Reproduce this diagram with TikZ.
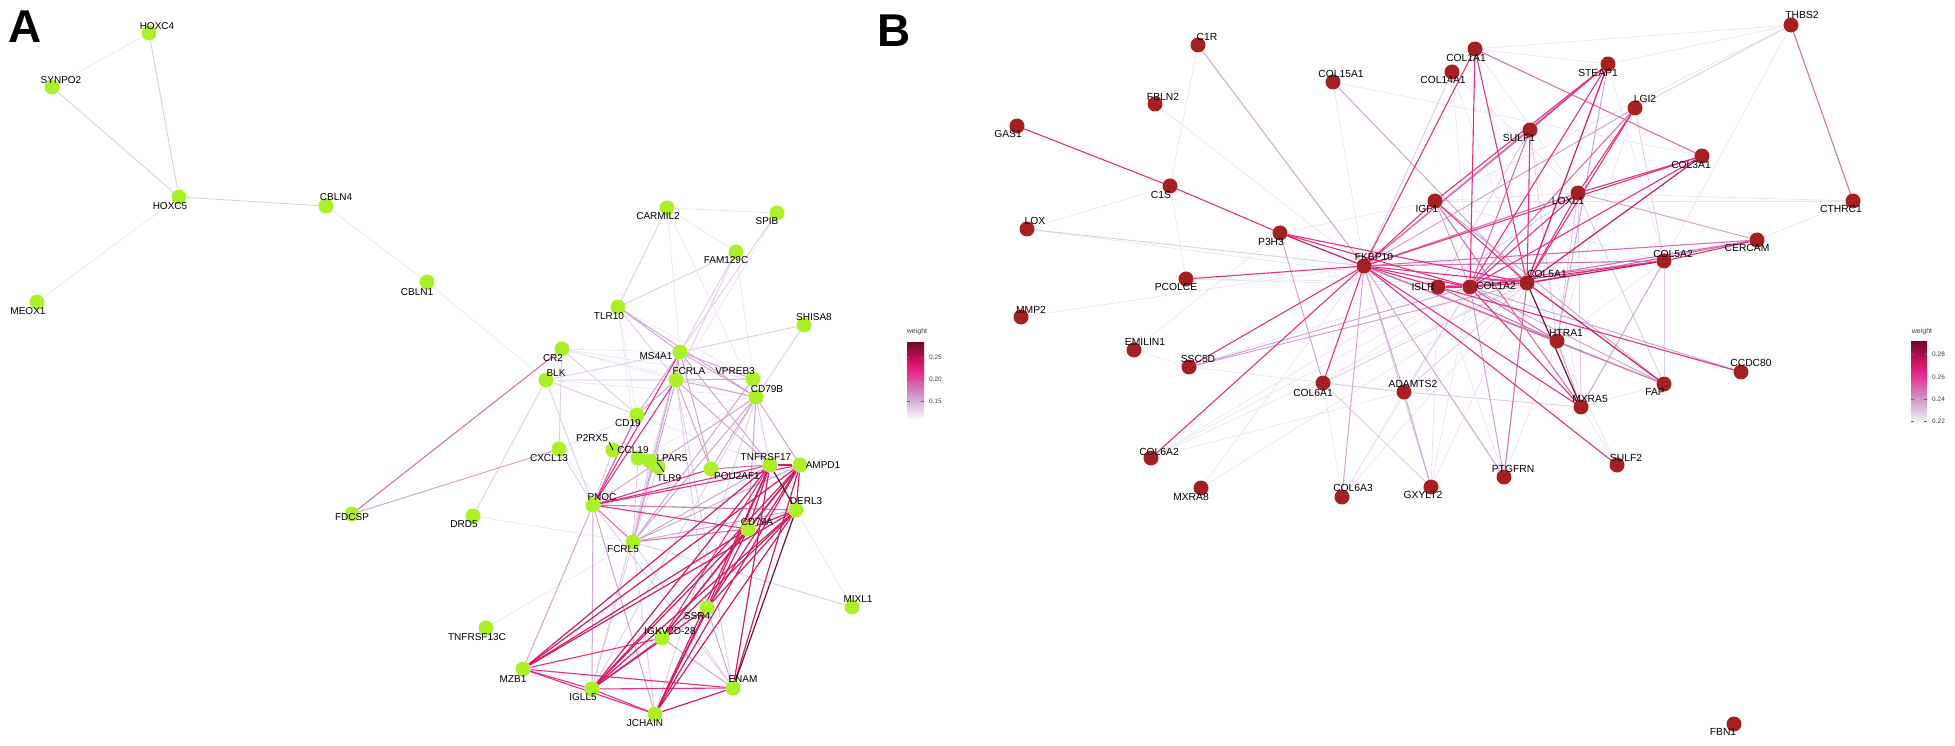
\documentclass[tikz,border=0pt]{standalone}
\usepackage{fontspec}
\setmainfont{Liberation Sans}
\usetikzlibrary{backgrounds}
\definecolor{c1}{RGB}{236,227,242}
\definecolor{c2}{RGB}{224,204,230}
\definecolor{c3}{RGB}{210,165,208}
\definecolor{c4}{RGB}{216,112,176}
\definecolor{c5}{RGB}{229,46,132}
\definecolor{c6}{RGB}{210,28,98}
\definecolor{c7}{RGB}{112,22,44}
\definecolor{limeg}{RGB}{172,240,42}
\definecolor{brownr}{RGB}{165,32,32}
\definecolor{gm1}{RGB}{110,8,45}
\definecolor{gm2}{RGB}{200,16,92}
\definecolor{gm3}{RGB}{231,41,138}
\definecolor{gm4}{RGB}{203,150,200}
\definecolor{gm5}{RGB}{248,245,250}
\tikzset{
  gA/.style={circle,fill=limeg,minimum size=15pt,inner sep=0pt},
  gB/.style={circle,fill=brownr,minimum size=15pt,inner sep=0pt},
  lab/.style={font=\fontsize{10}{12}\selectfont,inner sep=0pt,text=black},
  labB/.style={font=\fontsize{10.3}{12}\selectfont,inner sep=0pt,text=black},
  w1/.style={draw=c1,line width=0.7pt},
  w2/.style={draw=c2,line width=0.9pt},
  w3/.style={draw=c3,line width=1pt},
  w4/.style={draw=c4,line width=1.1pt},
  w5/.style={draw=c5,line width=1.1pt},
  w6/.style={draw=c6,line width=1.2pt},
  w7/.style={draw=c7,line width=1.2pt},
  legtxt/.style={font=\fontsize{6.5}{8}\selectfont,inner sep=0pt,text=black!75,anchor=west},
  legttl/.style={font=\fontsize{7}{8}\selectfont,inner sep=0pt,text=black!75},
  tick/.style={draw=black!60,line width=0.6pt},
  panel/.style={font=\bfseries\fontsize{46}{46}\selectfont,inner sep=0pt},
  repel/.style={draw=black,line width=0.8pt}
}
\begin{document}
\begin{tikzpicture}[x=1pt,y=-1pt]
\useasboundingbox (0,0) rectangle (1955,746);

% ---------------- Panel A nodes
\foreach \n/\x/\y in {HOXC4/149/33, SYNPO2/52/87, HOXC5/179/197, CBLN4/326/206, MEOX1/37/302, CBLN1/427/282,
  CARMIL2/667/208, SPIB/777/213, FAM129C/736/252, TLR10/618/307, SHISA8/804/325, CR2/562/349, MS4A1/680/352,
  BLK/546/380, FCRLA/676/380, VPREB3/753/379, CD79B/756/397, CD19/637/415, CXCL13/559/449, P2RX5/613/450,
  CCL19/638/458, LPAR5/650/461, TLR9/658/467, POU2AF1/711/469, TNFRSF17/770/465, AMPD1/800/465, PNOC/593/505,
  DRD5/473/516, DERL3/796/510, CD79A/748/529, FCRL5/633/542, MIXL1/852/607, SSR4/707/608, TNFRSF13C/486/628,
  IGKV/662/638, MZB1/523/669, ENAM/733/688, IGLL5/592/689, JCHAIN/655/714, FDCSP/352/514}
  {\node[gA] (\n) at (\x,\y) {};}

% ---------------- Panel B nodes
\foreach \n/\x/\y in {C1R/1198/45, COL15A1/1333/82, COL14A1/1452/72, COL1A1/1475/49, FBLN2/1155/104, GAS1/1017/126,
  C1S/1170/186, IGF1/1435/201, LOX/1027/229, P3H3/1280/233, FKBP10/1364/266, PCOLCE/1186/279, ISLR/1438/287,
  COL1A2/1470/287, MMP2/1021/317, EMILIN1/1134/350, SSC5D/1189/367, COL6A1/1323/383, ADAMTS2/1404/392,
  COL6A2/1151/458, MXRA8/1201/488, COL6A3/1342/497, GXYLT2/1431/487, THBS2/1791/25, STEAP1/1608/64,
  LGI2/1635/108, SULF1/1530/130, COL3A1/1702/156, LOXL1/1578/193, CTHRC1/1853/201, CERCAM/1757/240,
  COL5A2/1664/261, COL5A1/1527/283, HTRA1/1557/341, CCDC80/1741/372, FAP/1664/384, MXRA5/1581/407,
  SULF2/1617/465, PTGFRN/1504/477, FBN1/1734/724}
  {\node[gB] (\n) at (\x,\y) {};}

% ---------------- edges
\begin{pgfonlayer}{background}
% Panel A
\foreach \a/\b in {HOXC4/SYNPO2, HOXC5/MEOX1, CBLN4/CBLN1, CBLN1/BLK, DRD5/FCRL5, TNFRSF13C/FCRL5, MIXL1/DERL3,
  CARMIL2/MS4A1, CARMIL2/CD79B, FAM129C/CD79B, TLR10/CD19, TLR10/CCL19, CR2/MS4A1, CR2/FCRLA, BLK/FCRLA,
  BLK/VPREB3, CD19/CXCL13, SPIB/FCRLA, CR2/VPREB3, CXCL13/FCRL5, CD19/CD79B, BLK/CD79B, TLR10/VPREB3,
  CARMIL2/FAM129C, CR2/CD79B, MS4A1/LPAR5, CCL19/CD79B, CD19/TNFRSF17, CARMIL2/SPIB}
  {\draw[w1] (\a) -- (\b);}
\foreach \a/\b in {HOXC4/HOXC5, SYNPO2/HOXC5, HOXC5/CBLN4, DRD5/BLK, MIXL1/FCRL5, CARMIL2/TLR10, SPIB/MS4A1,
  FAM129C/TLR10, FAM129C/MS4A1, FAM129C/FCRLA, TLR10/FCRLA, SHISA8/MS4A1, SHISA8/CD79B, CR2/CD19, CR2/CXCL13,
  BLK/MS4A1, BLK/PNOC, CXCL13/PNOC, P2RX5/PNOC, VPREB3/CD79B, CD79B/TNFRSF17, PNOC/ENAM, FCRL5/IGLL5,
  FCRL5/JCHAIN, FCRL5/ENAM, LPAR5/FCRL5, TLR9/FCRL5, CCL19/FCRL5, BLK/CD19, CD79B/JCHAIN, FCRLA/ENAM,
  FCRLA/SSR4, CD79B/IGLL5, MS4A1/IGLL5}
  {\draw[w2] (\a) -- (\b);}
\foreach \a/\b in {FDCSP/CXCL13, TLR10/MS4A1, TLR10/CD79B, MS4A1/FCRLA, MS4A1/VPREB3, MS4A1/CD79B, MS4A1/CD19,
  MS4A1/POU2AF1, FCRLA/VPREB3, FCRLA/CD79B, FCRLA/CD19, FCRLA/POU2AF1, CD79B/POU2AF1, CD79B/PNOC, CD79B/FCRL5,
  CD19/PNOC, PNOC/MZB1, PNOC/IGLL5, PNOC/JCHAIN, FCRL5/TNFRSF17, FCRL5/AMPD1, FCRL5/DERL3, FCRL5/MS4A1,
  FCRL5/FCRLA, FCRL5/VPREB3, FCRLA/TNFRSF17, MS4A1/TNFRSF17, CD79B/CD79A, CD79B/AMPD1, IGKV/ENAM, SSR4/ENAM}
  {\draw[w3] (\a) -- (\b);}
\foreach \a/\b in {FDCSP/CR2, POU2AF1/TNFRSF17, PNOC/DERL3, PNOC/FCRL5, PNOC/CD19, FCRL5/CD79A}
  {\draw[w4] (\a) -- (\b);}
\foreach \a/\b in {PNOC/POU2AF1, PNOC/TNFRSF17, PNOC/AMPD1, PNOC/CD79A, PNOC/MS4A1, PNOC/FCRLA, MZB1/IGLL5,
  MZB1/JCHAIN, MZB1/ENAM, MZB1/IGKV, IGLL5/JCHAIN, IGLL5/ENAM, IGLL5/IGKV, IGKV/TNFRSF17}
  {\draw[w5] (\a) -- (\b);}
\foreach \a/\b in {MZB1/TNFRSF17, MZB1/AMPD1, MZB1/DERL3, MZB1/CD79A, IGLL5/TNFRSF17, IGLL5/AMPD1, IGLL5/DERL3,
  IGLL5/CD79A, IGLL5/SSR4, JCHAIN/TNFRSF17, JCHAIN/AMPD1, JCHAIN/DERL3, JCHAIN/CD79A, JCHAIN/SSR4, JCHAIN/ENAM,
  ENAM/TNFRSF17, ENAM/AMPD1, IGKV/AMPD1, IGKV/DERL3, IGKV/CD79A, SSR4/TNFRSF17, SSR4/AMPD1, SSR4/DERL3,
  TNFRSF17/AMPD1, AMPD1/DERL3, TNFRSF17/CD79A, AMPD1/CD79A, DERL3/CD79A}
  {\draw[w6] (\a) -- (\b);}
\foreach \a/\b in {TNFRSF17/DERL3, ENAM/DERL3}
  {\draw[w7] (\a) -- (\b);}
% Panel B
\foreach \a/\b in {C1R/C1S, C1S/PCOLCE, C1S/LOX, COL15A1/FKBP10, FBLN2/FKBP10, P3H3/IGF1, MMP2/FKBP10,
  EMILIN1/SSC5D, EMILIN1/P3H3, SSC5D/ADAMTS2, COL6A2/ADAMTS2, COL6A2/COL1A2, MXRA8/FKBP10, COL6A1/COL6A3,
  COL6A3/COL1A2, COL6A3/ADAMTS2, GXYLT2/COL5A1, THBS2/COL1A1, THBS2/COL5A2, THBS2/STEAP1, CTHRC1/LOXL1,
  CTHRC1/CERCAM, COL1A1/STEAP1, COL1A1/LOXL1, COL14A1/COL5A1, STEAP1/COL5A2, COL15A1/COL3A1, PCOLCE/COL1A2,
  COL6A2/ISLR, THBS2/IGF1, GXYLT2/COL1A2, PTGFRN/ISLR, SULF2/MXRA5, SULF2/HTRA1,
  IGF1/LOXL1, IGF1/COL5A2, PCOLCE/COL5A1, COL6A1/COL1A2, GXYLT2/ISLR, COL6A3/COL5A1, SSC5D/ISLR,
  COL6A2/COL5A1, LOX/COL1A2, CTHRC1/IGF1, COL14A1/LOXL1, LGI2/HTRA1, SULF1/MXRA5, COL5A2/HTRA1,
  FAP/MXRA5, CERCAM/ISLR, MXRA8/COL5A1, PTGFRN/HTRA1, COL14A1/COL1A2}
  {\draw[w1] (\a) -- (\b);}
\foreach \a/\b in {LOX/FKBP10, COL6A1/ADAMTS2, COL6A1/GXYLT2, COL6A1/COL5A1, ADAMTS2/COL5A1, ADAMTS2/MXRA5,
  ADAMTS2/COL1A2, GXYLT2/FKBP10, THBS2/LGI2, FAP/COL5A2, FAP/LOXL1, COL14A1/FKBP10, SULF1/HTRA1, LGI2/COL5A2,
  LOXL1/MXRA5, LOXL1/HTRA1, ISLR/LOXL1, SULF1/ISLR}
  {\draw[w2] (\a) -- (\b);}
\foreach \a/\b in {C1R/FKBP10, COL15A1/COL5A1, COL6A1/P3H3, SSC5D/COL5A1, SSC5D/COL1A2, COL6A3/FKBP10,
  ADAMTS2/FKBP10, ADAMTS2/GXYLT2, PTGFRN/FKBP10, PTGFRN/COL1A2, HTRA1/FAP, FAP/COL1A2, FAP/IGF1,
  CCDC80/COL1A2, LGI2/FKBP10, STEAP1/HTRA1, LOXL1/CERCAM, MXRA5/COL5A2, MXRA5/HTRA1, IGF1/COL1A2}
  {\draw[w3] (\a) -- (\b);}
\foreach \a/\b in {PTGFRN/COL5A1, HTRA1/COL1A2, HTRA1/ISLR, HTRA1/FKBP10, COL1A1/COL3A1, LGI2/COL1A2,
  SULF1/COL1A2, SULF1/FKBP10, LOXL1/FKBP10, IGF1/MXRA5, CERCAM/FKBP10, CERCAM/COL5A1, CERCAM/COL1A2,
  COL5A2/ISLR, COL5A1/ISLR, FKBP10/COL5A2, FKBP10/FAP, STEAP1/FKBP10, THBS2/CTHRC1}
  {\draw[w4] (\a) -- (\b);}
\foreach \a/\b in {GAS1/C1S, C1S/P3H3, PCOLCE/FKBP10, IGF1/FKBP10, COL1A1/FKBP10, COL1A1/COL1A2, COL1A1/COL5A1,
  FKBP10/COL5A1, FKBP10/COL1A2, FKBP10/ISLR, FKBP10/COL3A1, FKBP10/COL6A1, FKBP10/COL6A2, FKBP10/SSC5D,
  FKBP10/MXRA5, FKBP10/SULF2, P3H3/COL5A1, P3H3/COL1A2, STEAP1/IGF1, STEAP1/COL1A2, LGI2/COL5A1, LGI2/LOXL1,
  COL3A1/COL1A2, COL3A1/LOXL1, LOXL1/COL1A2, LOXL1/COL5A1, IGF1/COL5A1, CERCAM/COL5A2, COL5A2/COL1A2,
  COL5A1/COL1A2, ISLR/COL1A2, CCDC80/ISLR, MXRA5/COL1A2, SULF1/COL5A1, STEAP1/SULF1}
  {\draw[w5] (\a) -- (\b);}
\foreach \a/\b in {P3H3/FKBP10, STEAP1/COL5A1, COL3A1/COL5A1, COL5A2/COL5A1, FAP/COL5A1}
  {\draw[w6] (\a) -- (\b);}
\draw[w7] (COL5A1) -- (MXRA5);
\end{pgfonlayer}

% ---------------- Panel A labels
\foreach \n/\t/\x/\y in {HOXC4/HOXC4/157/26, SYNPO2/SYNPO2/61/80, HOXC5/HOXC5/170/206, CBLN4/CBLN4/336/197,
  MEOX1/MEOX1/28/311, CBLN1/CBLN1/417/292, CARMIL2/CARMIL2/658/216, SPIB/SPIB/767/221, FAM129C/FAM129C/726/260,
  TLR10/TLR10/609/316, SHISA8/SHISA8/814/317, CR2/CR2/553/358, MS4A1/MS4A1/656/356, BLK/BLK/556/373,
  FCRLA/FCRLA/689/371, VPREB3/VPREB3/735/371, CD79B/CD79B/767/389, CD19/CD19/628/423, P2RX5/P2RX5/592/438,
  CCL19/CCL19/633/450, CXCL13/CXCL13/549/458, LPAR5/LPAR5/672/458, TLR9/TLR9/669/478, POU2AF1/POU2AF1/737/476,
  TNFRSF17/TNFRSF17/766/457, AMPD1/AMPD1/823/465, PNOC/PNOC/602/497, DERL3/DERL3/806/501, DRD5/DRD5/464/524,
  CD79A/CD79A/757/522, FCRL5/FCRL5/623/549, MIXL1/MIXL1/858/599, SSR4/SSR4/697/616,
  TNFRSF13C/TNFRSF13C/477/637, IGKV/IGKV2D-28/670/631, MZB1/MZB1/513/679, ENAM/ENAM/743/679,
  IGLL5/IGLL5/583/697, JCHAIN/JCHAIN/645/723, FDCSP/FDCSP/352/517}
  {\node[lab] (t\n) at (\x,\y) {\t};}

% repel segments
\coordinate (p2a) at (609,442);
\coordinate (p2b) at (613,450);
\coordinate (t9a) at (657,462);
\coordinate (t9b) at (664,472);
\draw[repel] (p2a) -- (p2b);
\draw[repel] (t9a) -- (t9b);

% ---------------- Panel B labels
\foreach \n/\x/\y in {C1R/1207/37, COL15A1/1341/74, COL14A1/1443/80, COL1A1/1466/58, FBLN2/1163/97,
  GAS1/1008/134, C1S/1161/195, IGF1/1427/209, LOX/1035/221, P3H3/1271/242, FKBP10/1374/257, PCOLCE/1176/287,
  ISLR/1423/287, COL1A2/1496/286, COL5A1/1547/274, MMP2/1031/310, EMILIN1/1145/342, SSC5D/1198/359,
  COL6A1/1313/393, ADAMTS2/1413/384, COL6A2/1159/452, MXRA8/1191/497, COL6A3/1353/488, GXYLT2/1423/495,
  STEAP1/1598/73, LGI2/1645/99, SULF1/1519/138, COL3A1/1691/165, LOXL1/1568/201, THBS2/1802/15,
  CTHRC1/1841/209, CERCAM/1747/248, COL5A2/1673/254, HTRA1/1566/333, CCDC80/1751/363, FAP/1655/392,
  MXRA5/1590/399, SULF2/1626/458, PTGFRN/1513/469, FBN1/1723/732}
  {\node[labB] (t\n) at (\x,\y) {\n};}

% ---------------- Legends
% A
\node[legttl] (wA) at (917,332) {weight};
\shade[top color=gm1,bottom color=gm2] (907,342) rectangle (924,360);
\shade[top color=gm2,bottom color=gm3] (907,360) rectangle (924,372);
\shade[top color=gm3,bottom color=gm4] (907,372) rectangle (924,394);
\shade[top color=gm4,bottom color=gm5] (907,394) rectangle (924,418);
\foreach \yy in {357,379,401} {\draw[tick] (907,\yy) -- (910,\yy); \draw[tick] (921,\yy) -- (924,\yy);}
\node[legtxt] (a25) at (929,357) {0.25};
\node[legtxt] (a20) at (929,379) {0.20};
\node[legtxt] (a15) at (929,401) {0.15};
% B
\node[legttl] (wB) at (1922,332) {weight};
\shade[top color=gm1,bottom color=gm2] (1911,341) rectangle (1927,360);
\shade[top color=gm2,bottom color=gm3] (1911,360) rectangle (1927,374);
\shade[top color=gm3,bottom color=gm4] (1911,374) rectangle (1927,398);
\shade[top color=gm4,bottom color=gm5] (1911,398) rectangle (1927,423);
\foreach \yy in {354,377,399,421} {\draw[tick] (1911,\yy) -- (1914,\yy); \draw[tick] (1924,\yy) -- (1927,\yy);}
\node[legtxt] (b28) at (1932,354) {0.28};
\node[legtxt] (b26) at (1932,377) {0.26};
\node[legtxt] (b24) at (1932,399) {0.24};
\node[legtxt] (b22) at (1932,421) {0.22};

% ---------------- panel letters
\node[panel] (pA) at (25,27) {A};
\node[panel] (pB) at (894,31) {B};
\end{tikzpicture}
\end{document}
